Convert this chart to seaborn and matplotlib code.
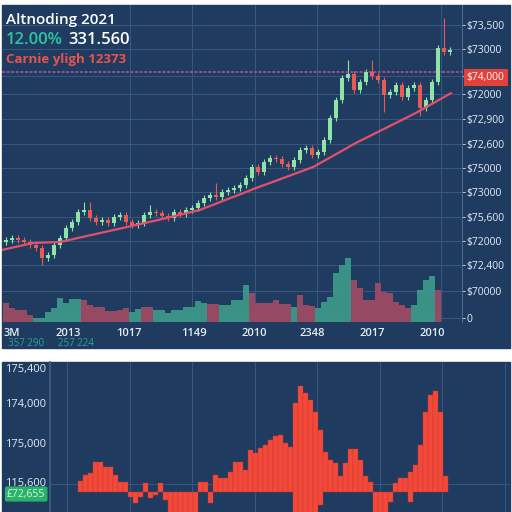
import matplotlib
matplotlib.use('Agg')
import matplotlib.pyplot as plt
import matplotlib.transforms as mtransforms
from matplotlib.patches import Rectangle
import seaborn as sns

# ---- candle data (price units, index = candle number) ----
first_open = 80
closes = [82, 84, 82, 80, 77, 74, 64, 67, 77, 84, 94, 100, 110, 112, 104, 100, 102, 99, 105, 107,
          100, 97, 99, 107, 110, 109, 106, 104, 110, 108, 112, 114, 119, 124, 127, 125, 130, 132, 134, 137,
          144, 155, 150, 160, 164, 163, 158, 155, 162, 172, 174, 167, 170, 182, 204, 222, 244, 248, 232, 240,
          250, 246, 242, 227, 230, 237, 225, 234, 237, 214, 222, 240, 274, 270, 272]
spike_idx = [6, 13, 14, 24, 35, 57, 61, 63, 69, 73]
spike_val = [57, 120, 120, 117, 139, 262, 262, 210, 206, 304]

volume = [19, 14, 12, 12, 7, 4, 4, 10, 14, 24, 19, 23, 23, 22, 17, 15, 15, 11, 11, 12,
          14, 10, 13, 15, 15, 12, 12, 9, 12, 12, 15, 15, 21, 19, 18, 18, 17, 17, 22, 22,
          37, 29, 19, 19, 19, 22, 18, 18, 15, 27, 17, 16, 14, 20, 25, 49, 57, 64, 42, 34,
          22, 22, 39, 30, 29, 20, 17, 14, 17, 32, 42, 46, 32, 0, 0]
vol_up = [0, 0, 0, 0, 0, 1, 1, 1, 1, 1, 1, 1, 1, 0, 0, 0, 0, 0, 0, 0,
          0, 1, 1, 0, 0, 1, 1, 1, 1, 1, 1, 1, 1, 1, 0, 0, 1, 1, 1, 1,
          1, 0, 0, 0, 0, 0, 0, 0, 1, 0, 0, 0, 1, 1, 1, 1, 1, 1, 0, 0,
          0, 0, 0, 0, 0, 0, 0, 0, 1, 1, 1, 1, 0, 0, 0]

ma_idx = [-0.7, 4.5, 9, 20.2, 26.8, 32.3, 41.7, 51.2, 58.3, 68.3, 74.2]
ma_val = [72, 79, 80, 95, 104, 112, 134, 155, 179, 209, 229]
resist = 250

price_ticks = [297, 273, 246, 228, 203, 178, 154, 130, 105, 81, 57, 31, 4]
price_labels = ['$73,500', '$73000', '$74,000', '$72000', '$72,900', '$72,600', '$75000',
                '$73000', '$75,600', '$72000', '$72,400', '$70000', '0']
date_pos = [1, 10.3, 20.5, 31.3, 41.3, 51, 61, 71]
date_labels = ['3M', '2013', '1017', '1149', '2010', '2348', '2017', '2010']
date_grid = [10.3, 20.7, 31, 41.5, 51.8, 62.2, 72.5]

# ---- lower panel bars ----
osc_hi = [11, 17, 19, 30, 30, 25, 25, 17, 10, 10,
          0, 0, 0, 9, 0, 0, 9, 0,
          0, 0, 0, 0, 0, 0,
          10, 10, 0, 17, 14, 14, 20, 30, 30, 22, 42, 39, 44, 47, 52, 56, 57, 49, 45,
          89, 106, 99, 92, 80, 62, 40, 32, 29, 16, 29, 43, 43, 32, 16, 10,
          0, 0, 0, 0,
          9, 14, 14, 20, 27, 47, 80, 97, 101, 80, 16]
osc_lo = [0, 0, 0, 0, 0, 0, 0, 0, 0, 0,
          -5, -11, -5, 0, -6, -3, 0, -8,
          -25, -25, -25, -25, -25, -25,
          0, 0, -11, 0, 0, 0, 0, 0, 0, 0, 0, 0, 0, 0, 0, 0, 0, 0, 0,
          -25, -25, -25, -25, -25, -13, 0, 0, 0, 0, 0, 0, 0, 0, 0, 0,
          -25, -25, -25, -10,
          0, 0, 0, -10, 0, 0, 0, 0, 0, 0, 0]
osc_ticks = [124, 89, 49, 10]
osc_labels = ['175,400', '174,000', '175,000', '115,600']
osc_hgrid = [89, 49, 8]
osc_vgrid = [-2.7, 9.8, 22.3, 34.8, 47.3, 59.8, 72.3, 84.8]

BG = '#1f3c60'
GRID = '#37587f'
TXT = '#e4ecf4'
UP = '#8fe3a4'
DOWN = '#e85b55'

sns.set_theme(style='dark')
plt.rcParams['font.family'] = ['Open Sans', 'DejaVu Sans']

fig = plt.figure(figsize=(5.12, 5.12), dpi=100, facecolor='white')
fig.patches.append(Rectangle((2 / 512, 164 / 512), 508 / 512, 343 / 512,
                             transform=fig.transFigure, color=BG, zorder=-10))
fig.patches.append(Rectangle((2 / 512, 0), 508 / 512, 150 / 512,
                             transform=fig.transFigure, color=BG, zorder=-10))

# ---- top panel ----
ax = fig.add_axes([2 / 512, 190 / 512, 460 / 512, 317 / 512])
ax.set_facecolor(BG)

opens = [first_open] + closes[:-1]
vol_colors = ['#3e9c8c' if u else '#a34b63' for u in vol_up]
ax.bar(range(len(volume)), volume, width=0.95, color=vol_colors, alpha=0.9,
       edgecolor='none', lw=0, zorder=2)

for i, (o, c) in enumerate(zip(opens, closes)):
    col = UP if c >= o else DOWN
    hi, lo = max(o, c) + 3, min(o, c) - 3
    if i in spike_idx:
        v = spike_val[spike_idx.index(i)]
        hi, lo = max(hi, v), min(lo, v)
    ax.vlines(i, lo, hi, color=col, lw=0.8, zorder=3)
    ax.bar(i, max(abs(c - o), 1.5), bottom=min(o, c), width=0.7, color=col,
           edgecolor='none', lw=0, zorder=4)

sns.lineplot(x=ma_idx, y=ma_val, ax=ax, color='#e2506b', lw=1.6, zorder=5)
ax.axhline(resist, color='#b0559a', ls=(0, (2, 1)), lw=1.1, zorder=3)

ax.set_xlim(-0.67, 76)
ax.set_ylim(0, 317)
ax.yaxis.tick_right()
ax.set_yticks(price_ticks)
ax.set_yticklabels(price_labels)
ax.set_xticks(date_pos)
ax.set_xticklabels(date_labels)
ax.set_xticks(date_grid, minor=True)
ax.tick_params(axis='y', colors=TXT, labelsize=7.5, length=2, width=0.6, pad=1.5, right=True)
ax.tick_params(axis='x', which='both', colors=TXT, labelsize=8, length=0, pad=4.5)
for lab in ax.get_xticklabels():
    lab.set_fontweight('semibold')
red_lab = ax.get_yticklabels()[2]
red_lab.set_color('white')
red_lab.set_bbox(dict(boxstyle='square,pad=0.3', fc='#e3403b', ec='none'))
ax.grid(False)
ax.grid(True, axis='y', which='major', color=GRID, lw=0.7)
ax.grid(True, axis='x', which='minor', color=GRID, lw=0.7)
for s in ['top', 'left', 'bottom']:
    ax.spines[s].set_visible(False)
ax.spines['right'].set_color('#4b6b92')
ax.spines['right'].set_linewidth(0.8)

ax.text(0.012, -0.068, '357 290', transform=ax.transAxes, color='#2aa39a', fontsize=7, va='center')
ax.text(0.122, -0.068, '257 224', transform=ax.transAxes, color='#2aa39a', fontsize=7, va='center')

fig.text(6 / 512, 1 - 20 / 512, 'Altnoding 2021', color='white', fontsize=11, va='center',
         fontweight='semibold')
fig.text(6 / 512, 1 - 40 / 512, '12.00%', color='#2ec4a0', fontsize=12, va='center',
         fontweight='semibold')
fig.text(68 / 512, 1 - 40 / 512, '331.560', color='white', fontsize=12, va='center',
         fontweight='semibold')
fig.text(6 / 512, 1 - 59 / 512, 'Carnie yligh 12373', color='#e8524f', fontsize=9.5, va='center',
         fontweight='bold')

# ---- bottom panel ----
ax2 = fig.add_axes([50 / 512, 0, 460 / 512, 150 / 512])
ax2.set_facecolor(BG)
heights = [h - l for h, l in zip(osc_hi, osc_lo)]
ax2.bar(range(len(osc_hi)), heights, bottom=osc_lo, width=1.0, color='#f2493b',
        edgecolor='#c8362d', lw=0.3, zorder=3)
ax2.set_xlim(-6.1, 85.9)
ax2.set_ylim(-20, 130)
ax2.set_yticks(osc_ticks)
ax2.set_yticklabels(osc_labels)
ax2.set_yticks(osc_hgrid, minor=True)
ax2.set_xticks([])
ax2.set_xticks(osc_vgrid, minor=True)
ax2.tick_params(axis='y', which='both', colors=TXT, labelsize=8, length=0, pad=3)
ax2.tick_params(axis='x', which='both', length=0)
ax2.grid(False)
ax2.grid(True, which='minor', color=GRID, lw=0.7)
for s in ['top', 'right', 'bottom']:
    ax2.spines[s].set_visible(False)
ax2.spines['left'].set_color('#3f5f85')
trans = mtransforms.blended_transform_factory(ax2.transAxes, ax2.transData)
ax2.text(-0.01, -2, '£72,655', transform=trans, ha='right', va='center', color='#d8f5e0',
         fontsize=7.5, bbox=dict(boxstyle='round,pad=0.2', fc='#27b36a', ec='none'))

fig.savefig('out.png', dpi=100, facecolor='white')
